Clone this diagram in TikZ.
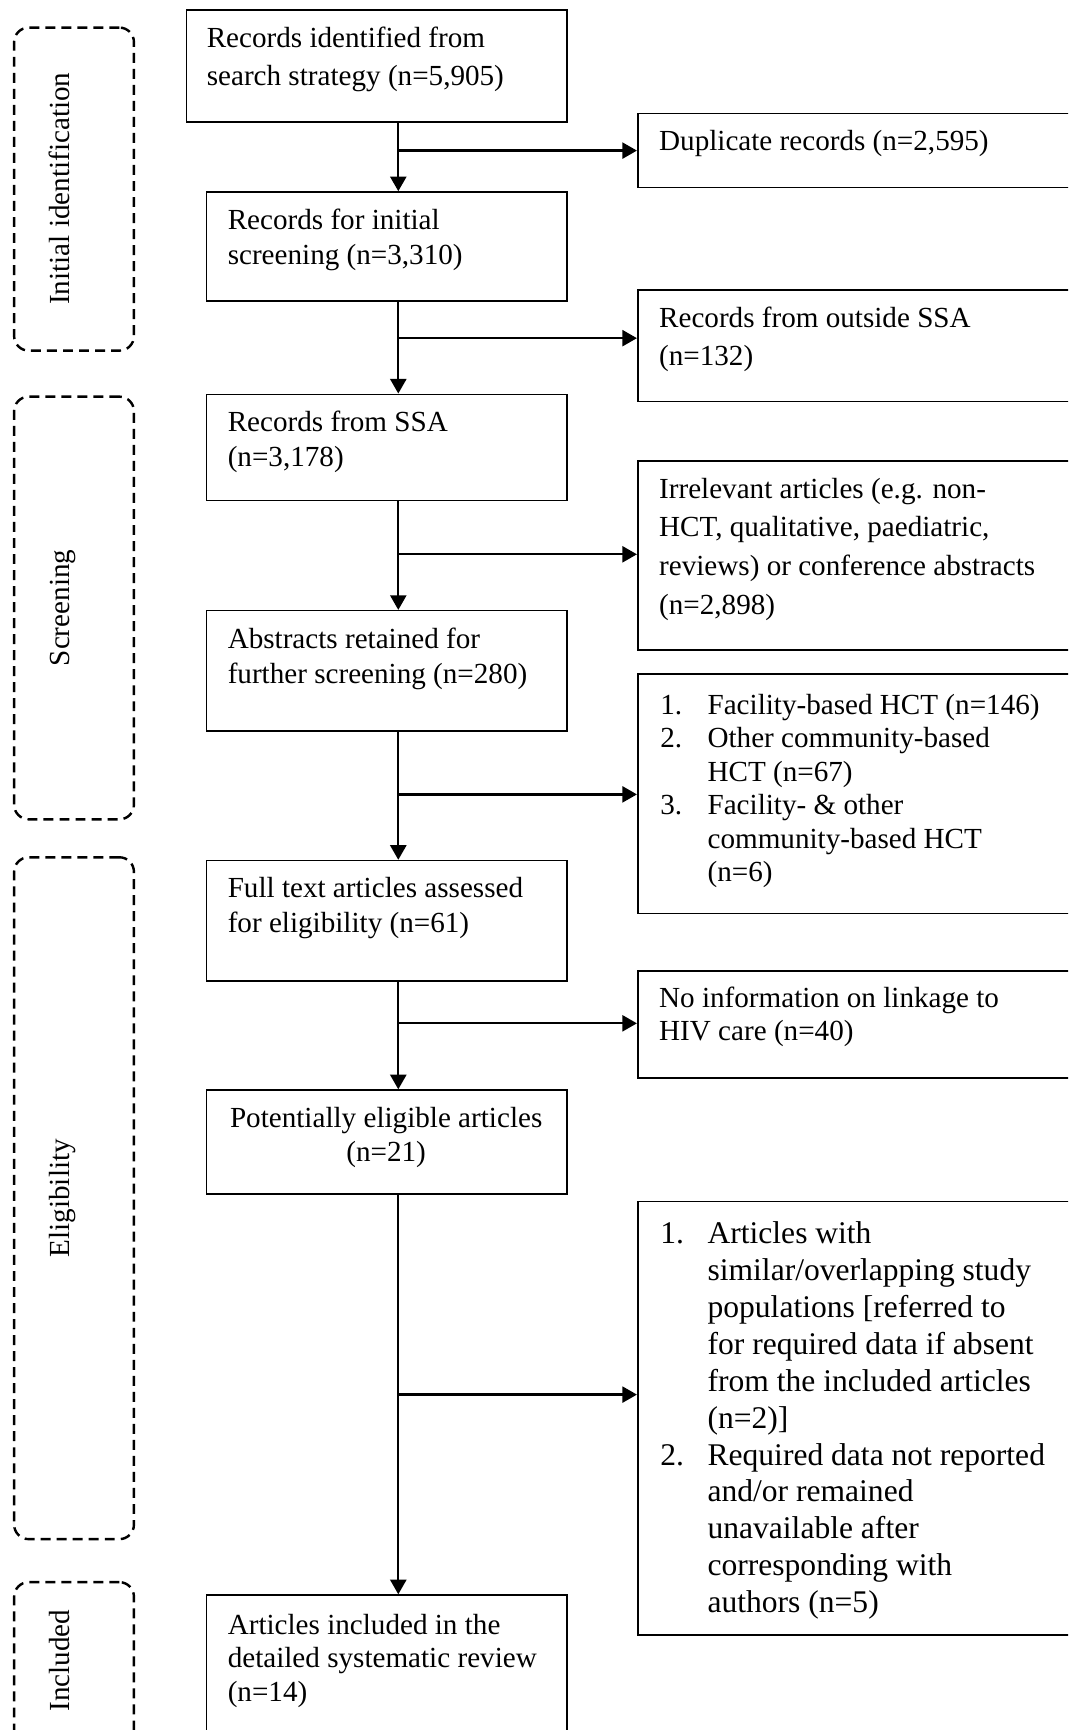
\documentclass[tikz,border=0pt]{standalone}
\usepackage{fontspec}
\setmainfont{Liberation Serif}
\usetikzlibrary{fit,arrows.meta}
\newcommand{\mytopstrut}{\rule{0pt}{11pt}}
\newcommand{\mybigstrut}{\rule{0pt}{12pt}}
\newcommand{\myitm}[1]{\makebox[19.5pt][l]{#1}}
\newcommand{\myind}{\hspace*{19.5pt}}
\begin{document}
\begin{tikzpicture}[x=0.4545pt,y=-0.4545pt,
  box/.style={draw, line width=0.65pt, inner sep=0pt},
  dbox/.style={draw, line width=1pt, dash pattern=on 4.1pt off 2.5pt, rounded corners=6pt, inner sep=0pt},
  txt/.style={inner sep=0pt, anchor=north west, align=left, font=\fontsize{12}{14.3}\selectfont},
  side/.style={inner sep=0pt, anchor=base, rotate=90, font=\fontsize{12}{14}\selectfont},
  arr/.style={line width=0.95pt, -{Triangle[length=6pt,width=6.6pt]}}]
\useasboundingbox (0,0) rectangle (968,1568);
\clip (0,0) rectangle (968,1568);

% stage boxes
\node[dbox, fit={(12.8,25) (121.4,317.8)}] (d1) {};
\node[dbox, fit={(12.8,359.5) (121.4,742.6)}] (d2) {};
\node[dbox, fit={(12.8,777) (121.4,1395)}] (d3) {};
\node[dbox, fit={(12.8,1434) (121.4,1582)}] (d4) {};
\node[side] (l1) at (63,171) {Initial identification};
\node[side] (l2) at (63,551) {Screening};
\node[side] (l3) at (63,1086) {Eligibility};
\node[side] (l4) at (63,1505) {Included};

% main column boxes
\node[box, fit={(169,9) (513.7,110.6)}] (b1) {};
\node[box, fit={(187,174) (513.7,272.8)}] (b2) {};
\node[box, fit={(187,357.4) (513.7,453.8)}] (b3) {};
\node[box, fit={(187,553.5) (513.7,662.6)}] (b4) {};
\node[box, fit={(187,780) (513.7,888.9)}] (b5) {};
\node[box, fit={(187,988) (513.7,1082)}] (b6) {};
\node[box, fit={(187,1445.7) (513.7,1600)}] (b7) {};

\node[txt, font=\fontsize{12}{15.8}\selectfont] (t1) at (187,18.1) {\mytopstrut Records identified from\\search strategy (n=5,905)};
\node[txt] (t2) at (206,183.8) {\mytopstrut Records for initial\\screening (n=3,310)};
\node[txt] (t3) at (206,366.4) {\mytopstrut Records from SSA\\(n=3,178)};
\node[txt] (t4) at (206,563.4) {\mytopstrut Abstracts retained for\\further screening (n=280)};
\node[txt] (t5) at (206,789.1) {\mytopstrut Full text articles assessed\\for eligibility (n=61)};
\node[txt, anchor=north, align=center] (t6) at (350,997) {\mytopstrut Potentially eligible articles\\(n=21)};
\node[txt, font=\fontsize{12}{13.7}\selectfont] (t7) at (206,1456.8) {\mytopstrut Articles included in the\\detailed systematic review\\(n=14)};

% side boxes
\node[box, fit={(578,103) (1000,170)}] (r1) {};
\node[box, fit={(578,263) (1000,364)}] (r2) {};
\node[box, fit={(578,418) (1000,589)}] (r3) {};
\node[box, fit={(578,611) (1000,828)}] (r4) {};
\node[box, fit={(578,880) (1000,977)}] (r5) {};
\node[box, fit={(578,1089) (1000,1482)}] (r6) {};

\node[txt] (s1) at (597,111.8) {\mytopstrut Duplicate records (n=2,595)};
\node[txt, font=\fontsize{12}{16}\selectfont] (s2) at (597,271.8) {\mytopstrut Records from outside SSA\\(n=132)};
\node[txt, font=\fontsize{12}{16}\selectfont] (s3) at (597,426.8) {\mytopstrut Irrelevant articles (e.g. non-\\HCT, qualitative, paediatric,\\reviews) or conference abstracts\\(n=2,898)};
\node[txt, font=\fontsize{12}{13.8}\selectfont] (s4) at (598,622.8) {\mytopstrut\myitm{1.}Facility-based HCT (n=146)\\\myitm{2.}Other community-based\\\myind HCT (n=67)\\\myitm{3.}Facility- \& other\\\myind community-based HCT\\\myind (n=6)};
\node[txt, font=\fontsize{12}{13.7}\selectfont] (s5) at (597,888.2) {\mytopstrut No information on linkage to\\HIV care (n=40)};
\node[txt, font=\fontsize{13}{15.2}\selectfont] (s6) at (598,1100.3) {\mybigstrut\myitm{1.}Articles with\\\myind similar/overlapping study\\\myind populations [referred to\\\myind for required data if absent\\\myind from the included articles\\\myind (n=2)]\\\myitm{2.}Required data not reported\\\myind and/or remained\\\myind unavailable after\\\myind corresponding with\\\myind authors (n=5)};

% connectors
\coordinate (sx) at (361,0);
\coordinate (j1) at (361,136.5);
\coordinate (j2) at (361,306.5);
\coordinate (j3) at (361,502.4);
\coordinate (j4) at (361,720);
\coordinate (j5) at (361,927.5);
\coordinate (j6) at (361,1264);
\draw[arr] (b1.south -| sx) -- (b2.north -| sx);
\draw[arr] (b2.south -| sx) -- (b3.north -| sx);
\draw[arr] (b3.south -| sx) -- (b4.north -| sx);
\draw[arr] (b4.south -| sx) -- (b5.north -| sx);
\draw[arr] (b5.south -| sx) -- (b6.north -| sx);
\draw[arr] (b6.south -| sx) -- (b7.north -| sx);
\draw[arr] (j1) -- (j1 -| r1.west);
\draw[arr] (j2) -- (j2 -| r2.west);
\draw[arr] (j3) -- (j3 -| r3.west);
\draw[arr] (j4) -- (j4 -| r4.west);
\draw[arr] (j5) -- (j5 -| r5.west);
\draw[arr] (j6) -- (j6 -| r6.west);
\end{tikzpicture}
\end{document}
